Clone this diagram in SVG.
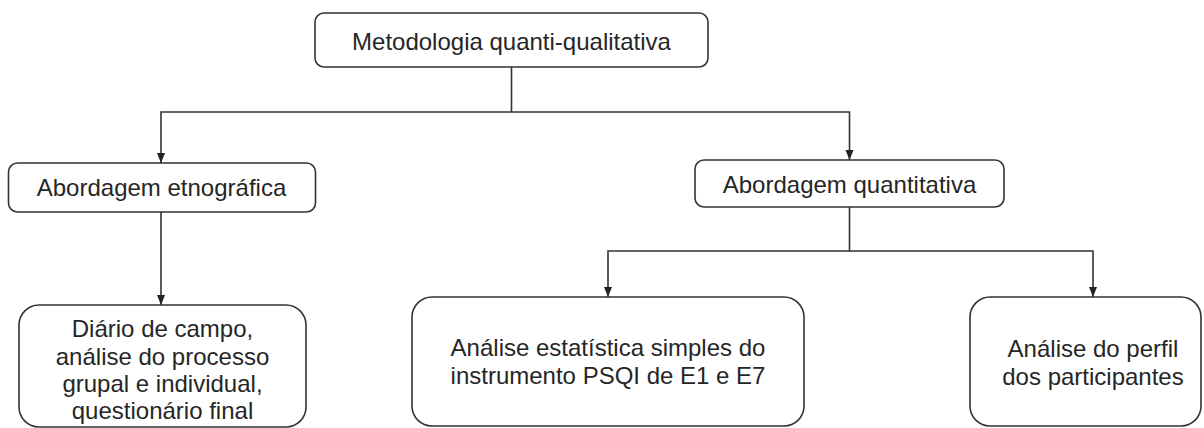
<svg xmlns="http://www.w3.org/2000/svg" width="1204" height="428" viewBox="0 0 1204 428">
<style>
.box{fill:#fff;stroke:#333;stroke-width:1.6}
.lbl{font-family:"Liberation Sans",Arial,sans-serif;font-size:24px;fill:#262626;text-anchor:middle}
.con{fill:none;stroke:#333;stroke-width:1.6}
</style>
<defs>
<marker id="arr" markerUnits="userSpaceOnUse" markerWidth="10" markerHeight="10" viewBox="0 0 10 10" refX="10" refY="5" orient="auto">
<path d="M0,1 L10,5 L0,9 z" fill="#222"/>
</marker>
</defs>
<rect width="1204" height="428" fill="#fff"/>
<g id="connectors">
<path class="con" d="M511.5 67 V112 H161 V163" marker-end="url(#arr)"/>
<path class="con" d="M511.5 112 H849.5 V160" marker-end="url(#arr)"/>
<path class="con" d="M161 212 V305" marker-end="url(#arr)"/>
<path class="con" d="M849.5 207 V251 H608 V297" marker-end="url(#arr)"/>
<path class="con" d="M849.5 251 H1093 V297" marker-end="url(#arr)"/>
</g>
<g id="n_top">
<rect class="box" x="315" y="13" width="393" height="54" rx="9"/>
<text class="lbl" x="511.5" y="50">Metodologia quanti-qualitativa</text>
</g>
<g id="n_etno">
<rect class="box" x="8.5" y="163" width="307" height="49" rx="9"/>
<text class="lbl" x="161.5" y="196">Abordagem etnográfica</text>
</g>
<g id="n_quant">
<rect class="box" x="695" y="160" width="309" height="47" rx="9"/>
<text class="lbl" x="849.5" y="193">Abordagem quantitativa</text>
</g>
<g id="n_diario">
<rect class="box" x="19" y="305" width="287" height="122" rx="20"/>
<text class="lbl" x="162.5" y="337">Diário de campo,</text>
<text class="lbl" x="162.5" y="364.5">análise do processo</text>
<text class="lbl" x="162.5" y="392">grupal e individual,</text>
<text class="lbl" x="162.5" y="419">questionário final</text>
</g>
<g id="n_estat">
<rect class="box" x="412" y="297" width="392" height="129" rx="20"/>
<text class="lbl" x="608" y="356">Análise estatística simples do</text>
<text class="lbl" x="608" y="384">instrumento PSQI de E1 e E7</text>
</g>
<g id="n_perfil">
<rect class="box" x="970" y="297" width="231" height="129" rx="20"/>
<text class="lbl" x="1093" y="357">Análise do perfil</text>
<text class="lbl" x="1093" y="385">dos participantes</text>
</g>
</svg>
